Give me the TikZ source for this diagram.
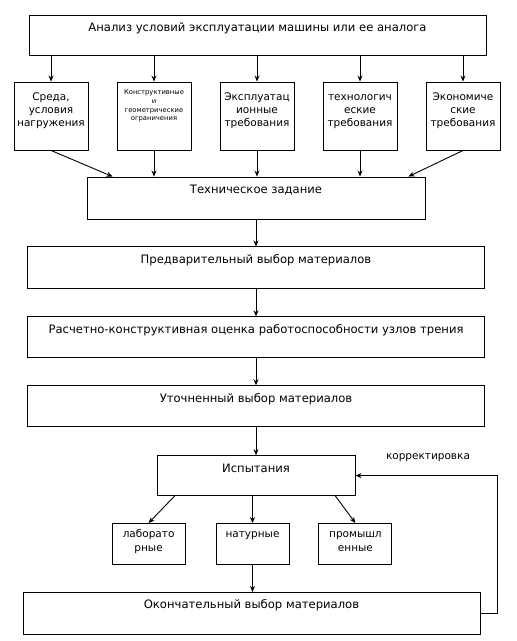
\documentclass[tikz,border=0pt]{standalone}
\usepackage{fontspec}
\setmainfont{DejaVu Sans}
\usetikzlibrary{arrows.meta,positioning}

\tikzset{
  box/.style={draw, line width=0.9pt, inner sep=0pt, minimum height=41pt},
  wide/.style={box, minimum width=457pt},
  col/.style={box, minimum width=74pt, minimum height=68pt},
  sub/.style={box, minimum width=73pt},
  txt/.style={anchor=north, align=center, inner sep=0pt},
  head/.style={txt, yshift=-7pt, font=\fontsize{11.6}{14}\selectfont},
  colt/.style={txt, yshift=-10pt, font=\fontsize{10.5}{12.8}\selectfont},
  subt/.style={txt, yshift=-5pt, font=\fontsize{10.5}{13.5}\selectfont},
  tiny/.style={txt, yshift=-7pt, font=\fontsize{6.8}{8.7}\selectfont},
  arr/.style={-{Stealth[length=6pt,width=5pt]}, line width=0.9pt}
}

\begin{document}
\begin{tikzpicture}[x=1pt,y=-1pt]
\useasboundingbox (0,0) rectangle (517,641);

\node[wide, minimum height=40pt] (analysis) at (257.5,35)
  [label={[head, yshift=0.5pt]north:\strut Анализ условий эксплуатации машины или ее аналога}] {};

\node[col] (env)   at (51,116)  [label={[colt]north:\strut Среда,\\условия\\нагружения}] {};
\node[col] (geom)  at (154,116) [label={[tiny]north:\strut Конструктивные\\и\\геометрические\\ограничения}] {};
\node[col] (oper)  at (257,116) [label={[colt]north:\strut Эксплуатац\\ионные\\требования}] {};
\node[col] (tech)  at (360,116) [label={[colt]north:\strut технологич\\еские\\требования}] {};
\node[col] (econ)  at (463,116) [label={[colt]north:\strut Экономиче\\ские\\требования}] {};

\node[box, minimum width=338pt, minimum height=42pt] (spec) at (256,198)
  [label={[head]north:\strut Техническое задание}] {};
\node[wide, minimum height=42pt] (prelim) [below=27pt of spec]
  [label={[head]north:\strut Предварительный выбор материалов}] {};
\node[wide] (calc)    [below=27pt of prelim]
  [label={[head]north:\strut Расчетно-конструктивная оценка работоспособности узлов трения}] {};
\node[wide] (refined) [below=27pt of calc]
  [label={[head]north:\strut Уточненный выбор материалов}] {};
\node[box, minimum width=198pt, minimum height=40pt] (test) [below=28pt of refined]
  [label={[head]north:\strut Испытания}] {};

\node[sub] (field) [below=27pt of test, xshift=-3.5pt] [label={[subt]north:\strut натурные}] {};
\node[sub] (lab)   [left=30pt of field]  [label={[subt]north:\strut лаборато\\рные}] {};
\node[sub] (plant) [right=29pt of field] [label={[subt]north:\strut промышл\\енные}] {};

\node[wide, minimum height=42pt] (final) [below=27pt of field, xshift=-1pt]
  [label={[head]north:\strut Окончательный выбор материалов}] {};

\node[font=\fontsize{10.5}{12}\selectfont, inner sep=0pt] (corr) at (428,458) {корректировка};

% analysis -> requirements
\foreach \n in {env,geom,oper,tech,econ}
  \draw[arr] (analysis.south -| \n.north) -- (\n.north);

% requirements -> specification
\draw[arr] (env.south) -- ([xshift=26pt]spec.north west);
\foreach \n in {geom,oper,tech}
  \draw[arr] (\n.south) -- (\n.south |- spec.north);
\draw[arr] (econ.south) -- ([xshift=-17pt]spec.north east);

% main chain
\draw[arr] (spec) -- (prelim);
\draw[arr] (prelim) -- (calc);
\draw[arr] (calc) -- (refined);
\draw[arr] (refined.south -| test.north) -- (test.north);

% tests
\draw[arr] ([xshift=18pt]test.south west) -- (lab.north);
\draw[arr] (test.south -| field.north) -- (field.north);
\draw[arr] ([xshift=-20pt]test.south east) -- (plant.north);
\draw[arr] (field.south) -- (field.south |- final.north);

% correction loop
\draw[arr] (final.east) -- ++(17,0) |- (test.east);
\end{tikzpicture}
\end{document}
